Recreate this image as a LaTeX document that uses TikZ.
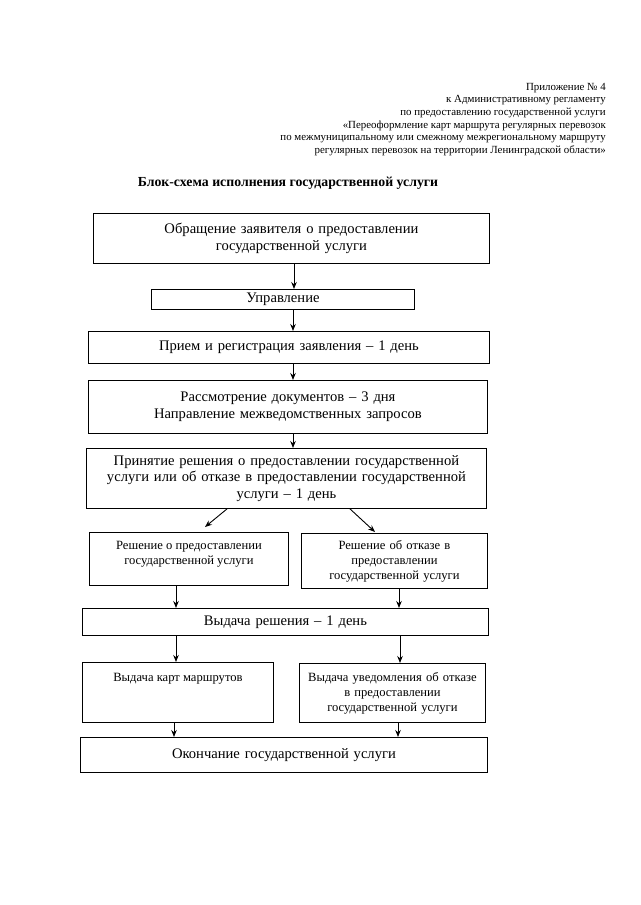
\documentclass[tikz,border=0pt]{standalone}
\usepackage{fontspec}
\setmainfont{Liberation Serif}
\usetikzlibrary{arrows.meta}
\begin{document}
\begin{tikzpicture}[x=1pt,y=-1pt,
  box/.style={draw, line width=0.9pt, inner sep=2pt, align=center, anchor=north west, font=\fontsize{14.6}{16.8}\selectfont},
  sbox/.style={box, font=\fontsize{12.6}{15}\selectfont},
  arr/.style={-{Stealth[length=7pt,width=5.5pt]}, line width=0.9pt}]
\useasboundingbox[fill=white] (0,0) rectangle (640,905);

\node[anchor=north east, align=right, inner sep=0pt, font=\fontsize{10.9}{12.6}\selectfont] (hdr) at (606,83)
  {Приложение № 4\\к Административному регламенту\\по предоставлению государственной услуги\\«Переоформление карт маршрута регулярных перевозок\\по межмуниципальному или смежному межрегиональному маршруту\\регулярных перевозок на территории Ленинградской области»};

\node[font=\fontsize{13.8}{16}\selectfont\bfseries] (title) at (288,183) {Блок-схема исполнения государственной услуги};

\node[box, minimum width=396, minimum height=50, text width=386] (b1) at (93,213) {Обращение заявителя о предоставлении\\государственной услуги};
\node[box, minimum width=263, minimum height=20, text width=253] (b2) at (151,289) {Управление};
\node[box, minimum width=401, minimum height=32, text width=391] (b3) at (88,331) {Прием и регистрация заявления – 1 день};
\node[box, minimum width=399, minimum height=53, text width=389] (b4) at (88,380) {Рассмотрение документов – 3 дня\\Направление межведомственных запросов};
\node[box, minimum width=400, minimum height=60, text width=390] (b5) at (86,448) {Принятие решения о предоставлении государственной\\услуги или об отказе в предоставлении государственной\\услуги – 1 день};

\node[sbox, minimum width=199, minimum height=53, inner sep=0pt] (b6l) at (89,532) {\parbox[c][51pt][t]{190pt}{\centering\vspace{8pt}Решение о предоставлении\\государственной услуги}};
\node[sbox, minimum width=186, minimum height=55, text width=176] (b6r) at (301,533) {Решение об отказе в\\предоставлении\\государственной услуги};

\node[box, minimum width=406, minimum height=27, text width=396] (b7) at (82,608) {Выдача решения – 1 день};

\node[sbox, minimum width=191, minimum height=60, inner sep=0pt] (b8l) at (82,662) {\parbox[c][58pt][t]{182pt}{\centering\vspace{10pt}Выдача карт маршрутов}};
\node[sbox, minimum width=186, minimum height=59, text width=176] (b8r) at (299,663) {Выдача уведомления об отказе\\в предоставлении\\государственной услуги};

\node[box, minimum width=407, minimum height=35, text width=397] (b9) at (80,737) {Окончание государственной услуги};

\coordinate (dl) at (205,527);
\coordinate (dr) at (375,532);

\draw[arr] (b1.south -| 294,0) -- (b2.north -| 294,0);
\draw[arr] (b2.south -| 293,0) -- (b3.north -| 293,0);
\draw[arr] (b3.south -| 293,0) -- (b4.north -| 293,0);
\draw[arr] (b4.south -| 293,0) -- (b5.north -| 293,0);
\draw[arr] (b5.south -| 227,0) -- (dl);
\draw[arr] (b5.south -| 350,0) -- (dr);
\draw[arr] (b6l.south -| 176,0) -- (b7.north -| 176,0);
\draw[arr] (b6r.south -| 399,0) -- (b7.north -| 399,0);
\draw[arr] (b7.south -| 176,0) -- (b8l.north -| 176,0);
\draw[arr] (b7.south -| 400,0) -- (b8r.north -| 400,0);
\draw[arr] (b8l.south -| 174,0) -- (b9.north -| 174,0);
\draw[arr] (b8r.south -| 398,0) -- (b9.north -| 398,0);
\end{tikzpicture}
\end{document}
